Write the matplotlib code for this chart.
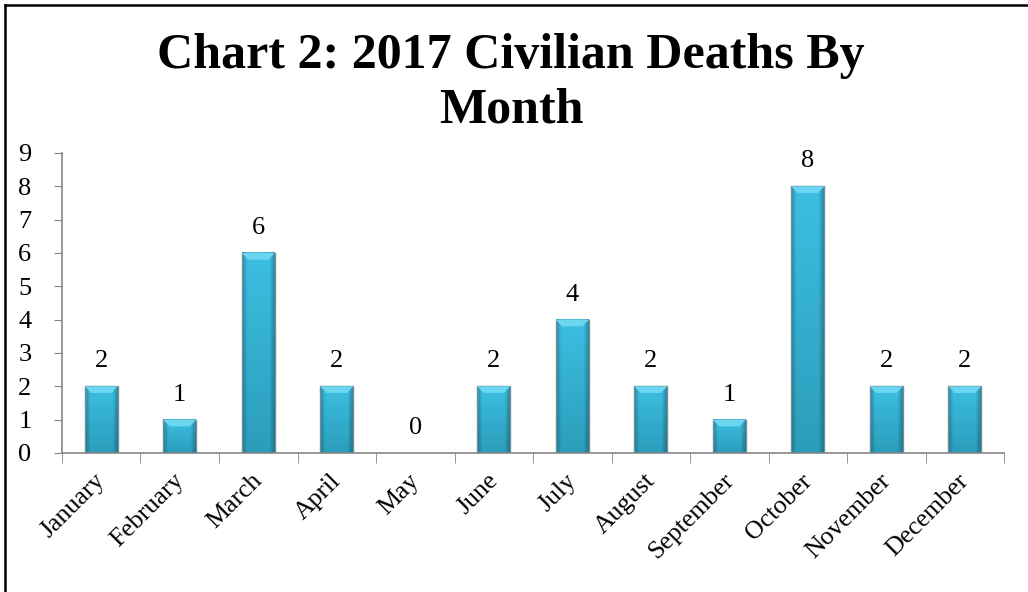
import numpy as np
import matplotlib
matplotlib.use("Agg")
import matplotlib.pyplot as plt
import matplotlib.transforms as mtransforms
from matplotlib.lines import Line2D
from matplotlib.patches import Polygon

# данные
months = ["January", "February", "March", "April", "May", "June",
          "July", "August", "September", "October", "November", "December"]
deaths = [2, 1, 6, 2, 0, 2, 4, 2, 1, 8, 2, 2]
title = "Chart 2: 2017 Civilian Deaths By\nMonth"

plt.rcParams["font.family"] = ["Liberation Serif", "DejaVu Serif"]

fig = plt.figure(figsize=(10.28, 5.92), dpi=100)
ax = fig.add_axes([0.0603, 0.2348, 0.9164, 0.5068])

x = np.arange(len(months))
bars = ax.bar(x, deaths, width=0.42, color="none", edgecolor="none")

# градиент для "объёмных" столбиков
top_c = np.array([0x3c, 0xbf, 0xe2]) / 255
bot_c = np.array([0x2b, 0x9d, 0xbb]) / 255
ny, nx = 100, 40
tv = np.linspace(0, 1, ny)[:, None, None]
vert = top_c * (1 - tv) + bot_c * tv
hx = np.linspace(-1, 1, nx)
shade = 1 - 0.28 * np.clip((np.abs(hx) - 0.7) / 0.3, 0, 1)
grad = np.clip(vert * shade[None, :, None], 0, 1)

for b in bars:
    h = b.get_height()
    if h <= 0:
        continue
    x0, w = b.get_x(), b.get_width()
    ax.imshow(grad, extent=[x0, x0 + w, 0, h], aspect="auto",
              interpolation="bilinear", zorder=2)
    ax.add_patch(plt.Rectangle((x0, 0), w, h, fill=False,
                               edgecolor="#6f8f99", lw=1.0, zorder=3))
    bev = 0.2
    ax.add_patch(Polygon([(x0, h), (x0 + w, h), (x0 + w - 0.08, h - bev),
                          (x0 + 0.08, h - bev)], closed=True,
                         facecolor="#6ad6f0", edgecolor="none", zorder=3))

for xi, v in zip(x, deaths):
    ax.annotate(str(v), (xi, v), xytext=(0, 10), textcoords="offset points",
                ha="center", va="bottom", fontsize=19)

ax.set_xlim(-0.5, len(months) - 0.5)
ax.set_ylim(0, 9)
ax.set_yticks(range(0, 10))
ax.tick_params(axis="y", labelsize=19, length=6, color="#868686", pad=16)

ax.set_xticks(x)
ax.set_xticklabels(months, rotation=45, ha="right", va="top",
                   rotation_mode="anchor", fontsize=18.6)
ax.tick_params(axis="x", length=0, pad=12)
shift = mtransforms.ScaledTranslation(-5 / 72, 0, fig.dpi_scale_trans)
for lbl in ax.get_xticklabels():
    lbl.set_transform(lbl.get_transform() + shift)
ax.set_xticks(np.arange(-0.5, len(months)), minor=True)
ax.tick_params(axis="x", which="minor", length=7, color="#868686")

for s in ["top", "right"]:
    ax.spines[s].set_visible(False)
for s in ["left", "bottom"]:
    ax.spines[s].set_color("#868686")
    ax.spines[s].set_linewidth(1.2)

fig.text(0.497, 0.945, title, ha="center", va="top", fontsize=36,
         fontweight="bold", linespacing=1.25)

# рамка
fig.add_artist(Line2D([0.005, 1.0], [0.991, 0.991], color="black", lw=1.8))
fig.add_artist(Line2D([0.005, 0.005], [0.0, 0.991], color="black", lw=1.8))

fig.savefig("out.png", dpi=100)
